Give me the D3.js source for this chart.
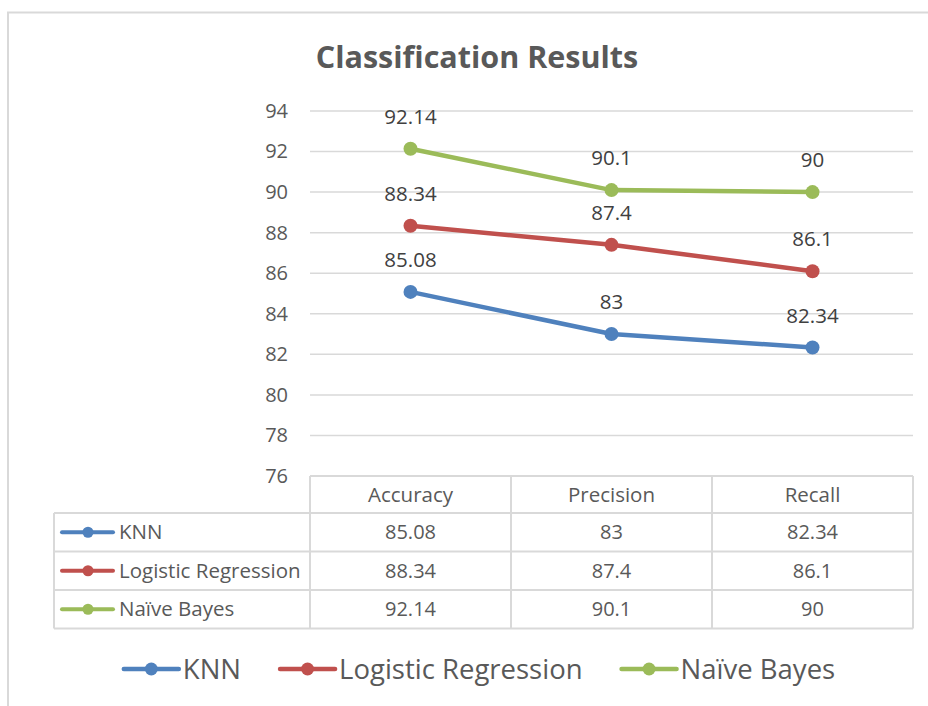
<!DOCTYPE html>
<html><head><meta charset="utf-8">
<script src="https://cdn.jsdelivr.net/npm/d3@7"></script>
<style>
html,body{margin:0;padding:0;background:#fff;}
svg{display:block;}
text{font-family:"Open Sans",Lato,sans-serif;}
</style></head>
<body>
<script>
const title = "Classification Results";
const categories = ["Accuracy", "Precision", "Recall"];
const seriesNames = ["KNN", "Logistic Regression", "Naïve Bayes"];
const knn = [85.08, 83, 82.34];
const logReg = [88.34, 87.4, 86.1];
const naiveBayes = [92.14, 90.1, 90];
const yTicks = [76, 78, 80, 82, 84, 86, 88, 90, 92, 94];
const colors = ["#4F81BD", "#C0504D", "#9BBB59"];

const series = seriesNames.map((n, i) => ({name: n, values: [knn, logReg, naiveBayes][i], color: colors[i]}));

const W = 928, H = 706;
const FONT = "'Open Sans', Lato, sans-serif";
const svg = d3.select("body").append("svg").attr("width", W).attr("height", H);

// outer chart border (partially cut off)
svg.append("rect").attr("x", 8).attr("y", 12.5).attr("width", 940).attr("height", 720)
  .attr("fill", "none").attr("stroke", "#d9d9d9").attr("stroke-width", 2);

svg.append("text").attr("x", 477).attr("y", 68).attr("text-anchor", "middle")
  .attr("font-size", 30.5).attr("font-weight", "bold").attr("fill", "#595959").text(title);

const x = d3.scaleBand().domain(categories).range([310, 913]);
const y = d3.scaleLinear().domain([76, 94]).range([476, 111]);
const grid = "#d9d9d9";

// gridlines
svg.append("g").selectAll("line").data(yTicks).join("line")
  .attr("x1", 310).attr("x2", 913).attr("y1", d => y(d)).attr("y2", d => y(d))
  .attr("stroke", grid).attr("stroke-width", 1.5);

// y axis labels
const yAxis = d3.axisLeft(y).tickValues(yTicks).tickSize(0).tickPadding(0);
const gy = svg.append("g").attr("transform", "translate(288,0)").call(yAxis);
gy.select(".domain").remove();
gy.selectAll("text").attr("font-size", 20).attr("fill", "#595959").attr("font-family", FONT);

// lines
const line = d3.line().x((d, i) => x(categories[i]) + x.bandwidth() / 2).y(d => y(d));
series.forEach(s => {
  svg.append("path").datum(s.values).attr("d", line).attr("fill", "none")
    .attr("stroke", s.color).attr("stroke-width", 4.5).attr("stroke-linejoin", "round").attr("stroke-linecap", "round");
  svg.append("g").selectAll("circle").data(s.values).join("circle")
    .attr("cx", (d, i) => x(categories[i]) + x.bandwidth() / 2).attr("cy", d => y(d)).attr("r", 7)
    .attr("fill", s.color);
  svg.append("g").selectAll("text").data(s.values).join("text")
    .attr("x", (d, i) => x(categories[i]) + x.bandwidth() / 2).attr("y", d => y(d) - 32)
    .attr("dy", "0.35em").attr("text-anchor", "middle").attr("font-size", 20.5).attr("fill", "#404040")
    .text(d => d);
});

// data table
const rowTop = 476, headerH = 37, rowH = 38.5, leftX = 54;
const tbl = svg.append("g");
function hl(x1, x2, yy) { tbl.append("line").attr("x1", x1).attr("x2", x2).attr("y1", yy).attr("y2", yy).attr("stroke", grid).attr("stroke-width", 2); }
function vl(xx, y1, y2) { tbl.append("line").attr("x1", xx).attr("x2", xx).attr("y1", y1).attr("y2", y2).attr("stroke", grid).attr("stroke-width", 2); }
const tableBottom = rowTop + headerH + rowH * series.length;
hl(310, 913, rowTop);
series.forEach((s, i) => hl(leftX, 913, rowTop + headerH + rowH * i));
hl(leftX, 913, tableBottom);
vl(leftX, rowTop + headerH, tableBottom);
categories.forEach(c => vl(x(c), rowTop, tableBottom));
vl(913, rowTop, tableBottom);

tbl.selectAll("text.hdr").data(categories).join("text").attr("class", "hdr")
  .attr("x", d => x(d) + x.bandwidth() / 2).attr("y", rowTop + headerH / 2).attr("dy", "0.35em")
  .attr("text-anchor", "middle").attr("font-size", 20.5).attr("fill", "#595959").text(d => d);

series.forEach((s, i) => {
  const cy = rowTop + headerH + rowH * i + rowH / 2;
  tbl.append("line").attr("x1", 62).attr("x2", 113).attr("y1", cy).attr("y2", cy)
    .attr("stroke", s.color).attr("stroke-width", 4).attr("stroke-linecap", "round");
  tbl.append("circle").attr("cx", 88).attr("cy", cy).attr("r", 5.5).attr("fill", s.color);
  tbl.append("text").attr("x", 119).attr("y", cy).attr("dy", "0.35em").attr("font-size", 20.5)
    .attr("fill", "#595959").text(s.name);
  tbl.selectAll(null).data(s.values).join("text")
    .attr("x", (d, j) => x(categories[j]) + x.bandwidth() / 2).attr("y", cy).attr("dy", "0.35em")
    .attr("text-anchor", "middle").attr("font-size", 20).attr("fill", "#595959").text(d => d);
});

// legend
const lg = svg.append("g");
const items = lg.selectAll("g").data(series).join("g");
items.append("line").attr("x1", 0).attr("x2", 55).attr("y1", 0).attr("y2", 0)
  .attr("stroke", d => d.color).attr("stroke-width", 4.5).attr("stroke-linecap", "round");
items.append("circle").attr("cx", 27.5).attr("cy", 0).attr("r", 6.5).attr("fill", d => d.color);
items.append("text").attr("x", 59).attr("y", 0).attr("dy", "0.35em").attr("font-size", 27.5)
  .attr("fill", "#595959").text(d => d.name);
let cx = 0; const gap = 39; const pos = [];
items.each(function () { pos.push(cx); cx += this.getBBox().width + gap; });
const total = cx - gap;
const startX = 479.5 - total / 2;
items.attr("transform", (d, i) => `translate(${startX + pos[i]},669)`);
</script>
</body></html>
